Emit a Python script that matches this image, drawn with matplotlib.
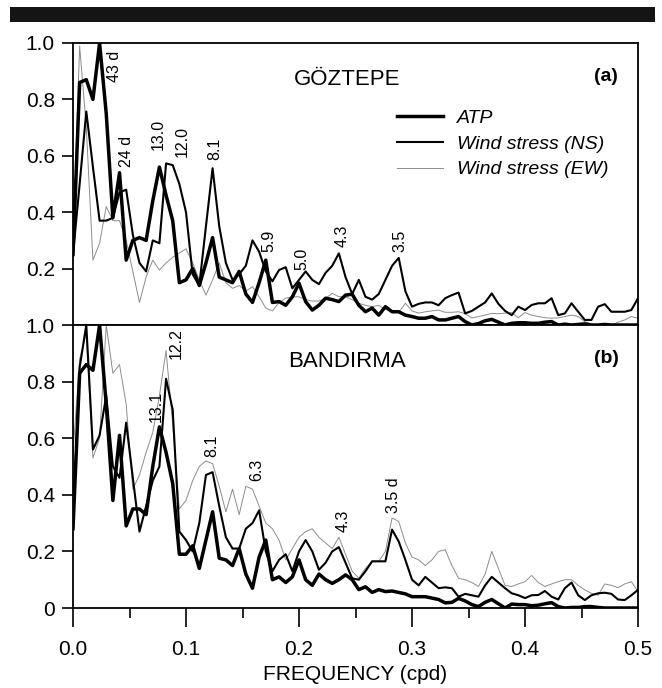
import matplotlib

matplotlib.use("Agg")
import matplotlib.pyplot as plt
import numpy as np
from matplotlib.lines import Line2D
from matplotlib.patches import Rectangle

plt.rcParams["font.family"] = ["Liberation Sans", "DejaVu Sans"]

# spectral resolution of the record (days)
N_DAYS = 170
freq = np.arange(0, 86) / N_DAYS

# normalised spectra, panel (a) GOZTEPE
goztepe_atp = [
    0.25, 0.86, 0.87, 0.80, 1.00, 0.75, 0.38, 0.54, 0.23, 0.30,
    0.31, 0.30, 0.44, 0.56, 0.46, 0.37, 0.15, 0.16, 0.20, 0.14,
    0.22, 0.31, 0.17, 0.16, 0.15, 0.19, 0.11, 0.08, 0.15, 0.23,
    0.08, 0.083, 0.07, 0.10, 0.148, 0.083, 0.053, 0.07, 0.095, 0.09,
    0.083, 0.106, 0.109, 0.07, 0.047, 0.06, 0.035, 0.065, 0.047, 0.047,
    0.035, 0.03, 0.024, 0.024, 0.03, 0.018, 0.018, 0.024, 0.03, 0.012,
    0.0, 0.005, 0.015, 0.02, 0.01, 0.0, 0.006, 0.008, 0.008, 0.006,
    0.006, 0.01, 0.012, 0.0, 0.003, 0.0, 0.002, 0.004, 0.0, 0.0,
    0.002, 0.0, 0.0, 0.0, 0.0, 0.0,
]
goztepe_ns = [
    0.25, 0.50, 0.757, 0.56, 0.37, 0.37, 0.38, 0.47, 0.48, 0.32,
    0.22, 0.19, 0.30, 0.29, 0.573, 0.567, 0.50, 0.40, 0.18, 0.14,
    0.35, 0.556, 0.35, 0.22, 0.16, 0.18, 0.21, 0.30, 0.26, 0.19,
    0.155, 0.195, 0.205, 0.13, 0.16, 0.19, 0.16, 0.145, 0.185, 0.21,
    0.254, 0.17, 0.11, 0.16, 0.10, 0.09, 0.11, 0.16, 0.21, 0.238,
    0.12, 0.065, 0.075, 0.08, 0.08, 0.07, 0.095, 0.106, 0.115, 0.041,
    0.05, 0.065, 0.08, 0.112, 0.075, 0.05, 0.035, 0.065, 0.053, 0.071,
    0.077, 0.077, 0.095, 0.035, 0.041, 0.077, 0.047, 0.018, 0.018, 0.065,
    0.074, 0.047, 0.047, 0.047, 0.053, 0.095,
]
goztepe_ew = [
    0.30, 0.99, 0.70, 0.23, 0.29, 0.42, 0.37, 0.37, 0.30, 0.19,
    0.08, 0.17, 0.23, 0.195, 0.22, 0.24, 0.255, 0.27, 0.22, 0.16,
    0.106, 0.16, 0.22, 0.15, 0.13, 0.14, 0.12, 0.136, 0.10, 0.06,
    0.05, 0.08, 0.095, 0.10, 0.10, 0.09, 0.085, 0.085, 0.095, 0.112,
    0.10, 0.10, 0.09, 0.077, 0.07, 0.065, 0.07, 0.055, 0.05, 0.045,
    0.077, 0.05, 0.042, 0.047, 0.05, 0.053, 0.045, 0.045, 0.047, 0.04,
    0.025, 0.03, 0.035, 0.041, 0.04, 0.042, 0.044, 0.026, 0.044, 0.035,
    0.03, 0.026, 0.024, 0.025, 0.03, 0.035, 0.03, 0.012, 0.003, 0.0,
    0.0, 0.0, 0.01, 0.018, 0.03, 0.024,
]

# normalised spectra, panel (b) BANDIRMA
bandirma_atp = [
    0.28, 0.83, 0.86, 0.84, 1.00, 0.72, 0.38, 0.61, 0.29, 0.35,
    0.35, 0.33, 0.50, 0.64, 0.55, 0.44, 0.19, 0.19, 0.22, 0.14,
    0.24, 0.34, 0.176, 0.17, 0.15, 0.21, 0.12, 0.07, 0.18, 0.24,
    0.10, 0.11, 0.09, 0.11, 0.17, 0.10, 0.08, 0.12, 0.10, 0.087,
    0.10, 0.117, 0.10, 0.065, 0.075, 0.055, 0.065, 0.058, 0.06, 0.055,
    0.05, 0.04, 0.04, 0.04, 0.035, 0.03, 0.018, 0.02, 0.034, 0.025,
    0.012, 0.005, 0.02, 0.03, 0.015, 0.0, 0.014, 0.012, 0.012, 0.008,
    0.01, 0.015, 0.019, 0.005, 0.0, 0.002, 0.002, 0.005, 0.005, 0.002,
    0.0, 0.0, 0.0, 0.0, 0.0, 0.0,
]
bandirma_ns = [
    0.30, 0.85, 1.00, 0.56, 0.61, 0.75, 0.50, 0.46, 0.655, 0.46,
    0.27, 0.36, 0.45, 0.50, 0.81, 0.70, 0.27, 0.24, 0.20, 0.30,
    0.47, 0.48, 0.36, 0.25, 0.21, 0.21, 0.28, 0.30, 0.345, 0.20,
    0.13, 0.17, 0.19, 0.13, 0.20, 0.24, 0.20, 0.135, 0.16, 0.20,
    0.215, 0.16, 0.105, 0.10, 0.13, 0.165, 0.165, 0.165, 0.277, 0.235,
    0.17, 0.10, 0.08, 0.11, 0.09, 0.07, 0.073, 0.07, 0.04, 0.05,
    0.045, 0.04, 0.08, 0.11, 0.09, 0.07, 0.052, 0.045, 0.035, 0.045,
    0.046, 0.06, 0.04, 0.03, 0.07, 0.09, 0.045, 0.028, 0.045, 0.052,
    0.054, 0.05, 0.03, 0.028, 0.045, 0.064,
]
bandirma_ew = [
    0.55, 0.88, 0.97, 0.53, 0.60, 1.00, 0.83, 0.86, 0.72, 0.42,
    0.47, 0.55, 0.62, 0.75, 0.91, 0.65, 0.35, 0.38, 0.45, 0.50,
    0.52, 0.51, 0.43, 0.34, 0.42, 0.33, 0.43, 0.42, 0.36, 0.30,
    0.28, 0.24, 0.17, 0.21, 0.25, 0.27, 0.28, 0.25, 0.23, 0.21,
    0.25, 0.19, 0.13, 0.105, 0.14, 0.165, 0.165, 0.20, 0.318, 0.306,
    0.23, 0.18, 0.17, 0.15, 0.17, 0.20, 0.206, 0.15, 0.105, 0.10,
    0.09, 0.076, 0.12, 0.20, 0.14, 0.08, 0.076, 0.085, 0.093, 0.115,
    0.09, 0.076, 0.085, 0.093, 0.10, 0.10, 0.08, 0.064, 0.052, 0.045,
    0.085, 0.08, 0.072, 0.085, 0.093, 0.058,
]

# period annotations (label, frequency position, bottom of text)
goztepe_periods = [
    ("43 d", 0.037, 0.86), ("24 d", 0.0475, 0.56), ("13.0", 0.075, 0.62),
    ("12.0", 0.0965, 0.596), ("8.1", 0.125, 0.585), ("5.9", 0.173, 0.259),
    ("5.0", 0.2027, 0.195), ("4.3", 0.238, 0.277), ("3.5", 0.2894, 0.259),
]
bandirma_periods = [
    ("12.2", 0.0918, 0.88), ("13.1", 0.0735, 0.656), ("8.1", 0.123, 0.535),
    ("6.3", 0.1626, 0.447), ("4.3", 0.239, 0.27), ("3.5 d", 0.2832, 0.337),
]

W, H = 662, 688
fig = plt.figure(figsize=(W / 100, H / 100), dpi=100)
fig.patches.append(
    Rectangle((10 / W, 1 - 22 / H), 645 / W, 15 / H, transform=fig.transFigure,
              facecolor="#141414", edgecolor="none")
)

ax_a = fig.add_axes([73 / W, 1 - 325 / H, 565 / W, 282 / H])
ax_b = fig.add_axes([73 / W, 1 - 608 / H, 565 / W, 283 / H])

styles = {
    "ATP": dict(color="black", lw=2.5),
    "NS": dict(color="black", lw=1.5),
    "EW": dict(color="#8c8c8c", lw=0.7),
}


def draw_panel(ax, atp, ns, ew, periods, station, tag):
    ax.plot(freq, ew, **styles["EW"])
    ax.plot(freq, ns, **styles["NS"])
    ax.plot(freq, atp, **styles["ATP"])
    ax.set_xlim(0, 0.5)
    ax.set_ylim(0, 1.0)
    for s in ax.spines.values():
        s.set_linewidth(1.3)
    for lab, x, y in periods:
        ax.text(x, y, lab, rotation=90, ha="center", va="bottom", fontsize=11.5)
    ax.text(0.2425, 0.872, station, ha="center", va="center", fontsize=16)
    ax.text(0.472, 0.88, tag, ha="center", va="center", fontsize=14,
            fontweight="bold")
    ax.tick_params(axis="y", direction="out", length=8, width=1.2,
                   labelsize=15, pad=5)


draw_panel(ax_a, goztepe_atp, goztepe_ns, goztepe_ew, goztepe_periods,
           "GÖZTEPE", "(a)")
draw_panel(ax_b, bandirma_atp, bandirma_ns, bandirma_ew, bandirma_periods,
           "BANDIRMA", "(b)")

ax_a.set_yticks([0.2, 0.4, 0.6, 0.8, 1.0])
ax_a.set_yticklabels(["0.2", "0.4", "0.6", "0.8", "1.0"])
ax_a.set_xticks([])

ax_b.set_yticks([0, 0.2, 0.4, 0.6, 0.8, 1.0])
ax_b.set_yticklabels(["0", "0.2", "0.4", "0.6", "0.8", "1.0"])
ax_b.set_xticks([0.0, 0.1, 0.2, 0.3, 0.4, 0.5])
ax_b.set_xticklabels(["0.0", "0.1", "0.2", "0.3", "0.4", "0.5"])
ax_b.set_xticks([0.05, 0.15, 0.25, 0.35, 0.45], minor=True)
ax_b.tick_params(axis="x", which="major", direction="out", length=14,
                 width=1.2, labelsize=15, pad=9)
ax_b.tick_params(axis="x", which="minor", direction="out", length=7,
                 width=1.2)
ax_b.set_xlabel("FREQUENCY (cpd)", fontsize=15, labelpad=4)

handles = [
    Line2D([], [], **styles["ATP"]),
    Line2D([], [], **styles["NS"]),
    Line2D([], [], **styles["EW"]),
]
ax_a.legend(handles, ["ATP", "Wind stress (NS)", "Wind stress (EW)"],
            loc="upper left", bbox_to_anchor=(0.573, 0.765), frameon=False,
            prop={"size": 14, "style": "italic"}, handlelength=2.4,
            handletextpad=0.7, labelspacing=0.42, borderpad=0,
            borderaxespad=0)

fig.savefig("out.png", dpi=100)
